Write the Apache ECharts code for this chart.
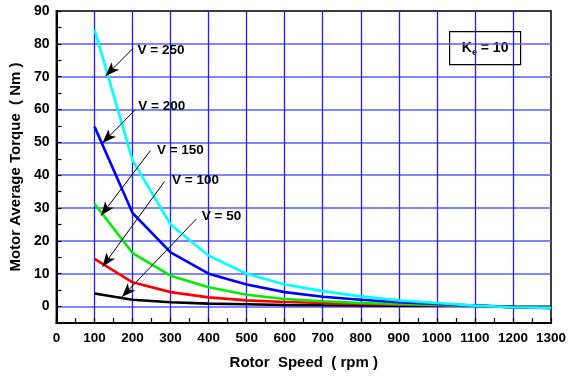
<!DOCTYPE html>
<html>
<head>
<meta charset="utf-8">
<script src="https://cdn.jsdelivr.net/npm/echarts@6/dist/echarts.min.js"></script>
<style>
  html, body { margin: 0; padding: 0; background: #fff; }
  #chart { width: 569px; height: 376px; }
</style>
</head>
<body>
<div id="chart"></div>
<script>
// rotor speed (rpm)
var speeds = [100, 200, 300, 400, 500, 600, 700, 800, 900, 1000, 1100, 1200, 1300];
// motor average torque (Nm) per supply voltage
var v250 = [84.4, 44.5, 25.0, 15.5, 10.0, 6.7, 4.7, 3.1, 1.9, 1.1, 0.3, -0.2, -0.4];
var v200 = [54.8, 28.5, 16.5, 10.0, 6.7, 4.4, 3.0, 2.1, 1.3, 0.8, 0.3, -0.2, -0.4];
var v150 = [31.3, 16.3, 9.4, 5.9, 3.6, 2.3, 1.6, 1.1, 0.8, 0.5, 0.3, -0.2, -0.4];
var v100 = [14.5, 7.4, 4.4, 2.8, 1.9, 1.4, 1.1, 0.8, 0.6, 0.4, 0.3, -0.2, -0.4];
var v50 = [4.0, 2.1, 1.3, 0.9, 0.7, 0.5, 0.4, 0.35, 0.3, 0.3, 0.25, 0.0, -0.1];

// arrow annotations (data units)
var annoLabels = ['V = 250', 'V = 200', 'V = 150', 'V = 100', 'V = 50'];
var annoTextAt = [[213, 78.1], [215, 61.1], [264, 47.7], [304, 38.6], [382, 27.4]];
var arrowFrom = [[201, 78.6], [207, 59.9], [247, 47.5], [284, 38.1], [368, 26.7]];
var arrowTo = [[129, 70.2], [121, 49.8], [117, 27.7], [121, 12.1], [172, 2.9]];

var seriesDefs = [
  {name: 'V = 50', data: v50, color: '#000000'},
  {name: 'V = 100', data: v100, color: '#ff0000'},
  {name: 'V = 150', data: v150, color: '#00ee00'},
  {name: 'V = 200', data: v200, color: '#0000ff'},
  {name: 'V = 250', data: v250, color: '#00ffff'}
];

var font = '"Liberation Sans", Arial, sans-serif';

var chartDom = document.getElementById('chart');
var myChart = echarts.init(chartDom, null, {renderer: 'canvas'});

var series = seriesDefs.map(function (s) {
  return {
    name: s.name,
    type: 'line',
    showSymbol: false,
    smooth: false,
    z: 3,
    lineStyle: {color: s.color, width: 2.6},
    itemStyle: {color: s.color},
    data: speeds.map(function (x, i) { return [x, s.data[i]]; })
  };
});

// annotation series: arrows + texts
series.push({
  type: 'line',
  data: [],
  z: 5,
  markLine: {
    silent: true,
    symbol: ['none', 'arrow'],
    symbolSize: [8, 14],
    label: {show: false},
    lineStyle: {color: '#000', width: 1, type: 'solid'},
    data: arrowFrom.map(function (p, i) {
      return [{coord: p}, {coord: arrowTo[i]}];
    })
  },
  markPoint: {
    silent: true,
    symbol: 'circle',
    symbolSize: 0,
    label: {
      show: true,
      position: 'right',
      distance: 0,
      color: '#000',
      fontFamily: font,
      fontWeight: 'bold',
      fontSize: 13.5,
      formatter: function (p) { return p.name; }
    },
    data: annoTextAt.map(function (p, i) {
      return {name: annoLabels[i], coord: p};
    })
  }
});

var option = {
  backgroundColor: '#fff',
  animation: false,
  grid: {
    left: 56, right: 17, top: 11, bottom: 53,
    show: true,
    borderColor: '#3c3c3c',
    borderWidth: 2,
    backgroundColor: '#fff'
  },
  xAxis: {
    type: 'value',
    min: 0,
    max: 1300,
    interval: 100,
    name: 'Rotor  Speed  ( rpm )',
    nameLocation: 'middle',
    nameGap: 32,
    nameTextStyle: {fontFamily: font, fontWeight: 'bold', fontSize: 15, color: '#000'},
    axisLine: {show: true, onZero: false, lineStyle: {color: '#000', width: 2}},
    axisTick: {show: true, inside: true, length: 5, lineStyle: {color: '#000', width: 1.2}},
    minorTick: {show: true, splitNumber: 2, length: 5, lineStyle: {color: '#000', width: 1.2}},
    axisLabel: {
      fontFamily: font, fontWeight: 'bold', fontSize: 13.5, color: '#000', margin: 8,
      formatter: function (v) { return String(v); }
    },
    splitLine: {show: true, showMinLine: false, showMaxLine: false, lineStyle: {color: '#2020ff', width: 1.3}}
  },
  yAxis: {
    type: 'value',
    min: -5,
    max: 90,
    interval: 5,
    name: 'Motor Average Torque  ( Nm )',
    nameLocation: 'middle',
    nameGap: 30,
    nameTextStyle: {fontFamily: font, fontWeight: 'bold', fontSize: 15, color: '#000'},
    axisLine: {show: true, onZero: false, lineStyle: {color: '#000', width: 2}},
    axisTick: {show: true, inside: true, length: 5, lineStyle: {color: '#000', width: 1.2}},
    axisLabel: {
      fontFamily: font, fontWeight: 'bold', fontSize: 14, color: '#000', margin: 7,
      formatter: function (v) { return v % 10 === 0 ? String(v) : ''; }
    },
    splitLine: {
      show: true, showMinLine: false, showMaxLine: false,
      lineStyle: {color: ['#5a5aff', 'rgba(0,0,0,0)'], width: 1.5}
    }
  },
  graphic: [
    {
      type: 'group',
      left: 449,
      top: 31,
      children: [
        {type: 'rect', shape: {x: 0, y: 0, width: 71, height: 33},
          style: {fill: '#fff', stroke: '#000', lineWidth: 1.2}},
        {type: 'text', x: 35.5, y: 16.5,
          style: {
            text: '{a|K}{b|e}{a| = 10}',
            align: 'center', verticalAlign: 'middle',
            rich: {
              a: {fontFamily: font, fontWeight: 'bold', fontSize: 14, fill: '#000', lineHeight: 18},
              b: {fontFamily: font, fontWeight: 'bold', fontSize: 9, fill: '#000', padding: [8, 0, 0, 0], lineHeight: 18}
            }
          }}
      ]
    }
  ],
  series: series
};

option && myChart.setOption(option);
</script>
</body>
</html>
